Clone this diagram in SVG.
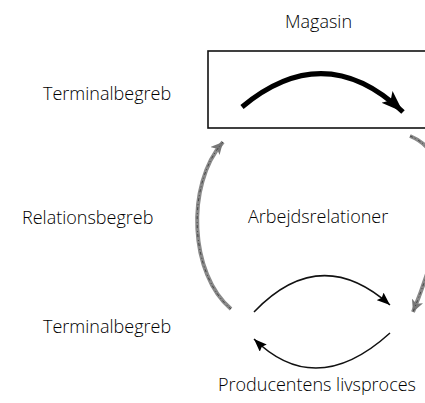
<svg xmlns="http://www.w3.org/2000/svg" width="425" height="403" viewBox="0 0 425 403">
<style>
  text { font-family: "Open Sans", "Liberation Sans", sans-serif; font-size: 18px; font-weight: 300; fill: #000; }
  .box { fill: none; stroke: #111; stroke-width: 1.6; }
  .thick { fill: none; stroke: #000; stroke-width: 5; stroke-linecap: butt; }
  .thin { fill: none; stroke: #111; stroke-width: 1.5; }
  .gray { fill: none; stroke: #8a8a8a; stroke-width: 4; }
  .grayline { fill: none; stroke: #333; stroke-width: 0.8; stroke-dasharray: 3 2 1 3; }
</style>
<defs>
  <marker id="bigHead" markerUnits="userSpaceOnUse" markerWidth="26" markerHeight="20" refX="22" refY="8" orient="auto" viewBox="0 0 26 16">
    <path d="M0,0 L22,8 L0,16 L5,8 Z" fill="#000"/>
  </marker>
  <marker id="smallHead" markerUnits="userSpaceOnUse" markerWidth="14" markerHeight="10" refX="13" refY="5" orient="auto" viewBox="0 0 14 10">
    <path d="M0,0 L13,5 L0,10 L2,5 Z" fill="#000"/>
  </marker>
  <marker id="grayHead" markerUnits="userSpaceOnUse" markerWidth="14" markerHeight="12" refX="12" refY="6" orient="auto" viewBox="0 0 14 12">
    <path d="M0,0 L12,6 L0,12 L3,6 Z" fill="#777"/>
  </marker>
</defs>
<g id="magasin">
  <rect class="box" x="208" y="51" width="240" height="77"/>
  <text x="285" y="28">Magasin</text>
</g>
<g id="labels">
  <text id="terminal-top" x="43" y="100">Terminalbegreb</text>
  <text id="relations" x="22" y="224">Relationsbegreb</text>
  <text id="terminal-bottom" x="43" y="333">Terminalbegreb</text>
  <text id="arbejds" x="248" y="223">Arbejdsrelationer</text>
  <text id="producent" x="218" y="391">Producentens livsproces</text>
</g>
<g id="connectors">
  <path class="thick" d="M242,107 Q325,38 403,112" marker-end="url(#bigHead)"/>
  <path class="gray" d="M231,309 C190,275 185,185 223,142" marker-end="url(#grayHead)"/>
  <path class="grayline" d="M231,309 C190,275 185,185 223,142"/>
  <path class="gray" d="M410,136 C470,160 430,270 413,312" marker-end="url(#grayHead)"/>
  <path class="grayline" d="M410,136 C470,160 430,270 413,312"/>
  <path class="thin" d="M254,312 Q320,243 390,305" marker-end="url(#smallHead)"/>
  <path class="thin" d="M390,333 Q316,400 254,339" marker-end="url(#smallHead)"/>
</g>
</svg>
